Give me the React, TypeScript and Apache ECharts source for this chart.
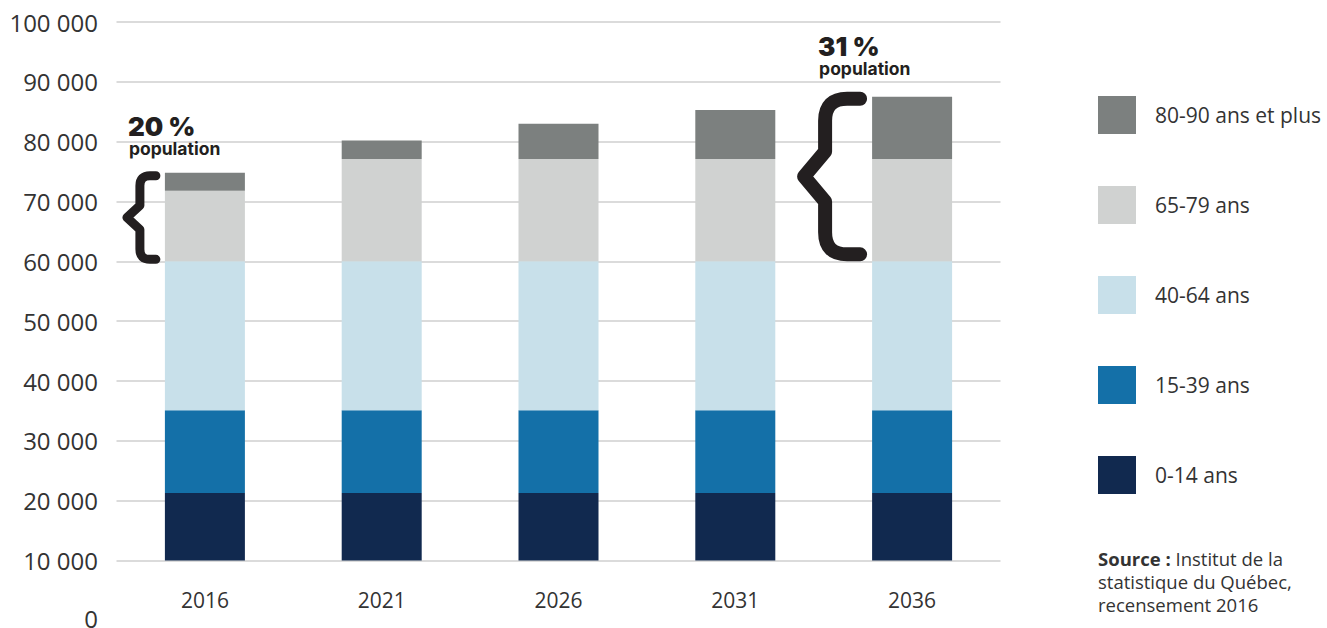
import React, { useEffect, useRef } from "react";
import * as echarts from "echarts";

// ---- data ----
const years = ["2016", "2021", "2026", "2031", "2036"];
const seriesNames = ["0-14 ans", "15-39 ans", "40-64 ans", "65-79 ans", "80-90 ans et plus"];
const age0to14 = [21300, 21300, 21300, 21300, 21300];
const age15to39 = [13800, 13800, 13800, 13800, 13800];
const age40to64 = [24900, 24900, 24900, 24900, 24900];
const age65to79 = [11800, 17100, 17100, 17100, 17100];
const age80plus = [3000, 3100, 5900, 8200, 10400];
const yMin = 10000;
const yMax = 100000;
const yInterval = 10000;
const extraZeroLabel = "0";
const annotationYears = ["2016", "2036"];
const annotationShares = ["20 %", "31 %"];
const annotationWord = "population";
const sourceLines = ["Institut de la", "statistique du Québec,", "recensement 2016"];

// ---- styles ----
const colors = ["#11294f", "#1470a8", "#c8e0ea", "#d0d2d1", "#7c807f"];
const ink = "#231f20";
const textColor = "#333333";
const braceStyles = [
  { arm: -49, stem: -65, tip: -78, topPad: 3, botPad: 2, r: 10, half: 12, width: 9, textX: -77 },
  { arm: -52, stem: -87, tip: -108, topPad: 2, botPad: 7, r: 22, half: 25, width: 14, textX: -94 },
];

const fmt = (v: number) => {
  const s = String(Math.round(v));
  return s.replace(/\B(?=(\d{3})+(?!\d))/g, " ");
};

export default function App() {
  const ref = useRef<HTMLDivElement>(null);

  useEffect(() => {
    if (!ref.current) return;
    const chart = echarts.init(ref.current, null, { renderer: "svg" });
    const seriesData = [age0to14, age15to39, age40to64, age65to79, age80plus];

    chart.setOption({
      animation: false,
      textStyle: { fontFamily: "Open Sans" },
      grid: { left: 116.5, right: 326.5, top: 22, bottom: 67.5, containLabel: false },
      xAxis: {
        type: "category",
        data: years,
        axisLine: { show: false },
        axisTick: { show: false },
        axisLabel: { fontSize: 21, color: textColor, margin: 29, fontFamily: "Open Sans" },
      },
      yAxis: {
        type: "value",
        min: yMin,
        max: yMax,
        interval: yInterval,
        axisLine: { show: false },
        axisTick: { show: false },
        axisLabel: {
          fontSize: 24,
          color: textColor,
          margin: 18.5,
          fontFamily: "Open Sans",
          formatter: (v: number) => fmt(v),
        },
        splitLine: { lineStyle: { color: "#cfcfcf", width: 1.5 } },
      },
      legend: {
        orient: "vertical",
        left: 1098,
        top: 96,
        padding: 0,
        itemWidth: 38,
        itemHeight: 38,
        itemGap: 52,
        icon: "rect",
        data: [...seriesNames].reverse(),
        textStyle: {
          fontSize: 21,
          color: textColor,
          fontFamily: "Open Sans",
          padding: [0, 0, 0, 14],
        },
      },
      series: seriesNames.map((name, i) => ({
        name,
        type: "bar",
        stack: "total",
        barWidth: 80,
        data: seriesData[i],
        itemStyle: { color: colors[i] },
      })),
    });

    const graphics: any[] = [];
    annotationYears.forEach((yr, i) => {
      const s = braceStyles[i];
      const idx = years.indexOf(yr);
      const total = seriesData.reduce((acc, arr) => acc + arr[idx], 0);
      const base = age0to14[idx] + age15to39[idx] + age40to64[idx];
      const pTop = chart.convertToPixel({ gridIndex: 0 }, [idx, total]) as number[];
      const pBase = chart.convertToPixel({ gridIndex: 0 }, [idx, base]) as number[];
      const cx = pTop[0];
      const yTop = pTop[1] + s.topPad;
      const yBot = pBase[1] - s.botPad;
      const yMid = (yTop + yBot) / 2;
      const xa = cx + s.arm;
      const xs = cx + s.stem;
      const xt = cx + s.tip;
      const d =
        `M${xa} ${yTop} L${xs + s.r} ${yTop} Q${xs} ${yTop} ${xs} ${yTop + s.r} ` +
        `L${xs} ${yMid - s.half} L${xt} ${yMid} L${xs} ${yMid + s.half} ` +
        `L${xs} ${yBot - s.r} Q${xs} ${yBot} ${xs + s.r} ${yBot} L${xa} ${yBot}`;
      const shapeName = "brace" + i;
      echarts.graphic.registerShape(shapeName, echarts.graphic.extendPath(d, {}) as any);
      graphics.push({
        type: shapeName,
        x: 0,
        y: 0,
        silent: true,
        style: {
          fill: "none",
          stroke: ink,
          lineWidth: s.width,
          lineCap: "round",
          lineJoin: "round",
        },
      });
      const outerTop = yTop - s.width / 2;
      graphics.push({
        type: "text",
        x: cx + s.textX,
        y: outerTop - 45,
        silent: true,
        style: {
          text: annotationShares[i],
          fontFamily: "Inter",
          fontWeight: 900,
          fontSize: 26,
          lineHeight: 20,
          fill: ink,
          align: "left",
          verticalAlign: "middle",
        },
      });
      graphics.push({
        type: "text",
        x: cx + s.textX + 1,
        y: outerTop - 23,
        silent: true,
        style: {
          text: annotationWord,
          fontFamily: "Inter",
          fontWeight: 700,
          fontSize: 17.5,
          lineHeight: 14,
          fill: ink,
          align: "left",
          verticalAlign: "middle",
        },
      });
    });

    const zeroPix = chart.convertToPixel({ gridIndex: 0 }, [0, yMin]) as number[];
    graphics.push({
      type: "text",
      x: 98,
      y: zeroPix[1] + 57.5,
      silent: true,
      style: {
        text: extraZeroLabel,
        fontFamily: "Open Sans",
        fontSize: 24,
        lineHeight: 20,
        fill: textColor,
        align: "right",
        verticalAlign: "middle",
      },
    });

    graphics.push({
      type: "text",
      x: 1098,
      y: 547,
      silent: true,
      style: {
        text: `{b|Source :} ${sourceLines[0]}\n${sourceLines[1]}\n${sourceLines[2]}`,
        fontFamily: "Open Sans",
        fontSize: 18.5,
        lineHeight: 23,
        fill: textColor,
        align: "left",
        verticalAlign: "top",
        rich: {
          b: { fontFamily: "Open Sans", fontSize: 18.5, fontWeight: 700, lineHeight: 23, fill: textColor },
        },
      },
    });

    chart.setOption({ graphic: graphics });

    return () => chart.dispose();
  }, []);

  return (
    <div
      ref={ref}
      style={{ position: "fixed", left: 0, top: 0, width: 1327, height: 628, background: "#ffffff" }}
    />
  );
}
